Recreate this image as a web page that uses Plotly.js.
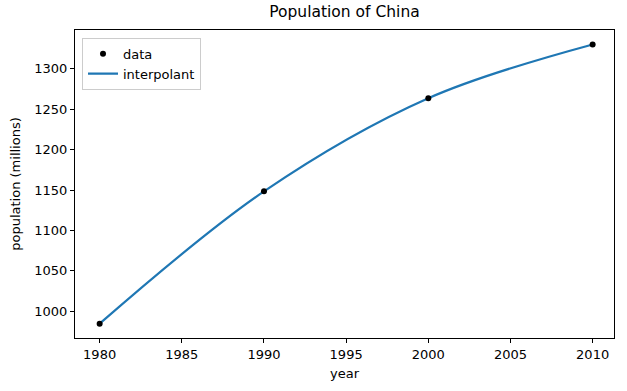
<!DOCTYPE html>
<html>
<head>
<meta charset="utf-8">
<script src="https://cdn.plot.ly/plotly-3.0.1.min.js"></script>
<style>html,body{margin:0;padding:0;background:#fff;}#chart{width:627px;height:391px;}</style>
</head>
<body>
<div id="chart"></div>
<script>
const years = [1980, 1990, 2000, 2010];
const population = [984.7, 1148.4, 1263.6, 1330.1];
const xTicks = [1980, 1985, 1990, 1995, 2000, 2005, 2010];
const yTicks = [1000, 1050, 1100, 1150, 1200, 1250, 1300];

const traces = [
  {
    x: years, y: population, type: 'scatter', mode: 'lines', name: 'interpolant',
    line: {color: '#1f77b4', width: 2.2, shape: 'spline', smoothing: 1},
    showlegend: true
  },
  {
    x: years, y: population, type: 'scatter', mode: 'markers', name: 'data',
    marker: {color: '#000', size: 6}
  }
];

const layout = {
  width: 627, height: 391,
  margin: {l: 75, r: 13, t: 30, b: 53},
  paper_bgcolor: '#fff', plot_bgcolor: '#fff',
  font: {family: 'DejaVu Sans, sans-serif', size: 13, color: '#000'},
  title: {text: 'Population of China', font: {size: 15.5}, xref: 'paper', x: 0.5, xanchor: 'center', y: 0.985, yanchor: 'top'},
  xaxis: {
    range: [1978.5, 2011.3], tickvals: xTicks, ticktext: xTicks.map(String),
    ticks: 'outside', ticklen: 4, tickcolor: '#000', showgrid: false, zeroline: false,
    showline: true, mirror: true, linecolor: '#000', linewidth: 1,
    title: {text: 'year', standoff: 8, font: {size: 13}}
  },
  yaxis: {
    range: [967, 1348], tickvals: yTicks, ticktext: yTicks.map(String),
    ticks: 'outside', ticklen: 4, tickcolor: '#000', showgrid: false, zeroline: false,
    showline: true, mirror: true, linecolor: '#000', linewidth: 1,
    title: {text: 'population (millions)', standoff: 10, font: {size: 13}}
  },
  legend: {
    x: 0.013, y: 0.975, xanchor: 'left', yanchor: 'top',
    bgcolor: 'rgba(255,255,255,0.8)', bordercolor: '#ccc', borderwidth: 1,
    traceorder: 'reversed', font: {size: 13}, itemwidth: 30
  },
  showlegend: true
};

Plotly.newPlot('chart', traces, layout, {staticPlot: true, displayModeBar: false});
</script>
</body>
</html>
